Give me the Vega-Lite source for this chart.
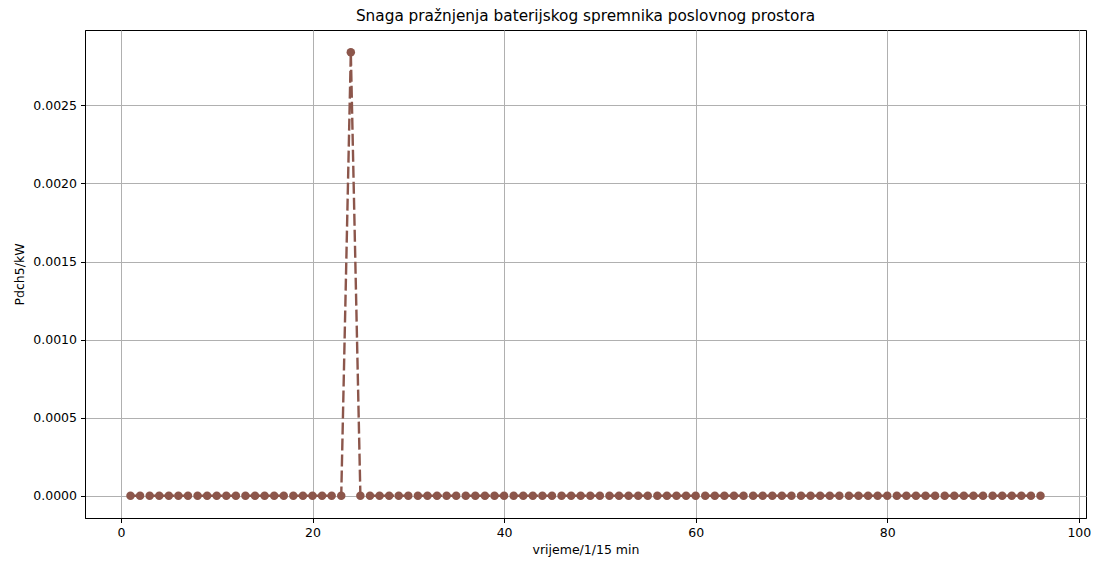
{
  "$schema": "https://vega.github.io/schema/vega-lite/v6.json",
  "width": 1001,
  "height": 488,
  "autosize": "none",
  "padding": {"left": 85, "top": 30, "right": 8, "bottom": 45},
  "background": "white",
  "title": {"text": "Snaga pražnjenja baterijskog spremnika poslovnog prostora", "font": "DejaVu Sans", "fontSize": 15.3, "fontWeight": "normal", "color": "black", "offset": 6},
  "config": {
    "view": {"stroke": "black", "strokeWidth": 1},
    "axis": {"labelFont": "DejaVu Sans", "titleFont": "DejaVu Sans", "labelFontSize": 12.5, "titleFontSize": 12.5, "titleFontWeight": "normal", "labelColor": "black", "titleColor": "black", "gridColor": "#b0b0b0", "gridWidth": 1, "domainColor": "black", "tickColor": "black", "tickSize": 4.5, "labelPadding": 4}
  },
  "data": {"values": [
    {"t":1,"p":0},{"t":2,"p":0},{"t":3,"p":0},{"t":4,"p":0},{"t":5,"p":0},{"t":6,"p":0},{"t":7,"p":0},{"t":8,"p":0},
    {"t":9,"p":0},{"t":10,"p":0},{"t":11,"p":0},{"t":12,"p":0},{"t":13,"p":0},{"t":14,"p":0},{"t":15,"p":0},{"t":16,"p":0},
    {"t":17,"p":0},{"t":18,"p":0},{"t":19,"p":0},{"t":20,"p":0},{"t":21,"p":0},{"t":22,"p":0},{"t":23,"p":0},{"t":24,"p":0.00284},
    {"t":25,"p":0},{"t":26,"p":0},{"t":27,"p":0},{"t":28,"p":0},{"t":29,"p":0},{"t":30,"p":0},{"t":31,"p":0},{"t":32,"p":0},
    {"t":33,"p":0},{"t":34,"p":0},{"t":35,"p":0},{"t":36,"p":0},{"t":37,"p":0},{"t":38,"p":0},{"t":39,"p":0},{"t":40,"p":0},
    {"t":41,"p":0},{"t":42,"p":0},{"t":43,"p":0},{"t":44,"p":0},{"t":45,"p":0},{"t":46,"p":0},{"t":47,"p":0},{"t":48,"p":0},
    {"t":49,"p":0},{"t":50,"p":0},{"t":51,"p":0},{"t":52,"p":0},{"t":53,"p":0},{"t":54,"p":0},{"t":55,"p":0},{"t":56,"p":0},
    {"t":57,"p":0},{"t":58,"p":0},{"t":59,"p":0},{"t":60,"p":0},{"t":61,"p":0},{"t":62,"p":0},{"t":63,"p":0},{"t":64,"p":0},
    {"t":65,"p":0},{"t":66,"p":0},{"t":67,"p":0},{"t":68,"p":0},{"t":69,"p":0},{"t":70,"p":0},{"t":71,"p":0},{"t":72,"p":0},
    {"t":73,"p":0},{"t":74,"p":0},{"t":75,"p":0},{"t":76,"p":0},{"t":77,"p":0},{"t":78,"p":0},{"t":79,"p":0},{"t":80,"p":0},
    {"t":81,"p":0},{"t":82,"p":0},{"t":83,"p":0},{"t":84,"p":0},{"t":85,"p":0},{"t":86,"p":0},{"t":87,"p":0},{"t":88,"p":0},
    {"t":89,"p":0},{"t":90,"p":0},{"t":91,"p":0},{"t":92,"p":0},{"t":93,"p":0},{"t":94,"p":0},{"t":95,"p":0},{"t":96,"p":0}
  ]},
  "encoding": {
    "x": {"field": "t", "type": "quantitative", "scale": {"domain": [-3.75, 100.75], "nice": false, "zero": false},
      "axis": {"title": "vrijeme/1/15 min", "values": [0, 20, 40, 60, 80, 100], "format": "d", "grid": true, "titlePadding": 4}},
    "y": {"field": "p", "type": "quantitative", "scale": {"domain": [-0.000142, 0.002982], "nice": false, "zero": false},
      "axis": {"title": "Pdch5/kW", "values": [0, 0.0005, 0.001, 0.0015, 0.002, 0.0025], "format": ".4f", "grid": true, "titlePadding": 6}}
  },
  "layer": [
    {"mark": {"type": "line", "color": "#8c564b", "strokeWidth": 2.4, "strokeDash": [12, 4]}},
    {"mark": {"type": "point", "shape": "circle", "filled": true, "color": "#8c564b", "opacity": 1, "size": 72}}
  ]
}
